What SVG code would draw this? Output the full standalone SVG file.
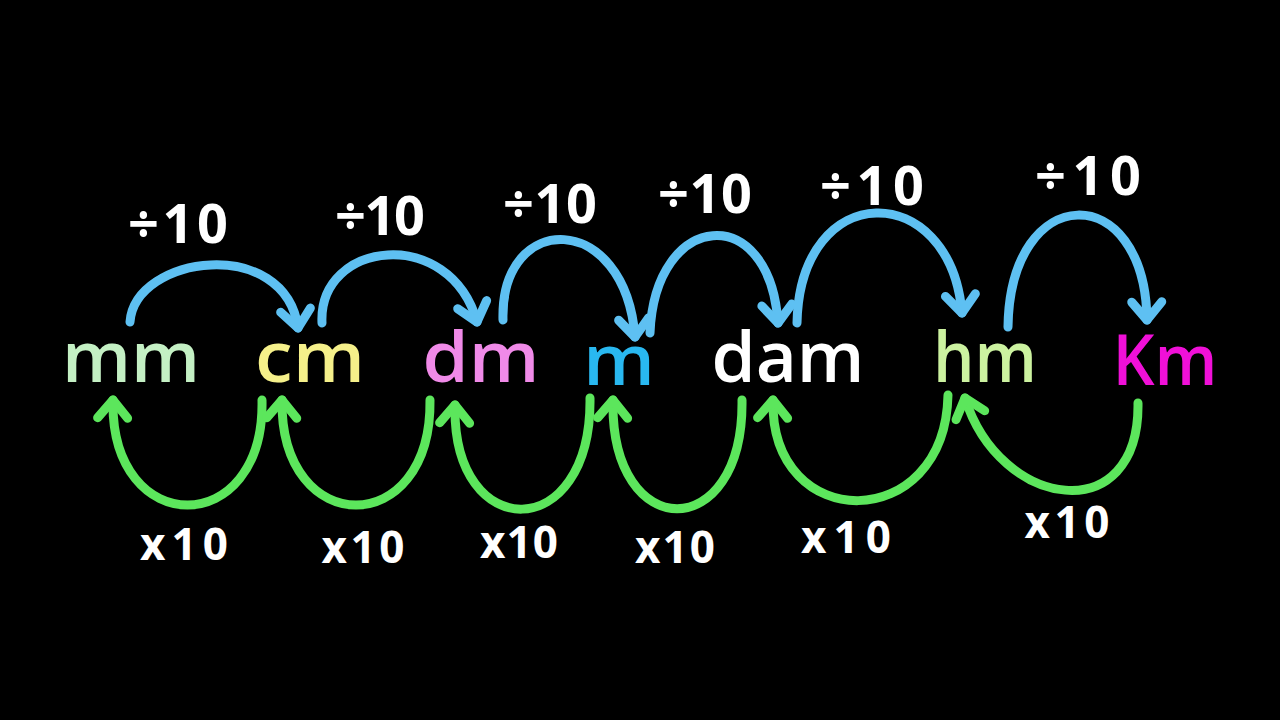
<svg xmlns="http://www.w3.org/2000/svg" width="1280" height="720" viewBox="0 0 1280 720">
<defs>
<style>
.unit{font-family:"Open Sans","Liberation Sans",sans-serif;font-weight:600;font-size:70px;text-anchor:middle}
.lbl{font-family:"Open Sans","Liberation Sans",sans-serif;font-weight:700;fill:#fff;text-anchor:middle}
.div{font-size:54px}
.mul{font-size:44px}
.blue{fill:none;stroke:#5ec0f2;stroke-width:9;stroke-linecap:round;marker-end:url(#ab)}
.green{fill:none;stroke:#5ce65c;stroke-width:9;stroke-linecap:round;marker-end:url(#ag)}
</style>
<marker id="ab" markerUnits="userSpaceOnUse" orient="auto" refX="0" refY="0" markerWidth="60" markerHeight="60" viewBox="-30 -30 60 60" overflow="visible">
<path d="M-18,-15 L0,0 L-18,15" fill="none" stroke="#5ec0f2" stroke-width="9" stroke-linecap="round" stroke-linejoin="round"/>
</marker>
<marker id="ag" markerUnits="userSpaceOnUse" orient="auto" refX="0" refY="0" markerWidth="60" markerHeight="60" viewBox="-30 -30 60 60" overflow="visible">
<path d="M-18,-15 L0,0 L-18,15" fill="none" stroke="#5ce65c" stroke-width="9" stroke-linecap="round" stroke-linejoin="round"/>
</marker>
</defs>
<rect width="1280" height="720" fill="#000"/>
<g id="connectors">
<path class="blue" d="M130,322 C135,255 285,235 298,328"/>
<path class="blue" d="M322,323 C318,240 450,225 477,322"/>
<path class="blue" d="M503,320 C500,210 625,210 635,337"/>
<path class="blue" d="M650,333 C655,210 770,200 778,323"/>
<path class="blue" d="M797,323 C800,178 950,178 962,313"/>
<path class="blue" d="M1008,327 C1010,180 1145,178 1147,320"/>
<path class="green" d="M262,400 C265,540 110,540 113,400"/>
<path class="green" d="M430,400 C432,540 280,540 282,400"/>
<path class="green" d="M590,398 C592,545 452,545 455,405"/>
<path class="green" d="M742,400 C744,545 610,545 613,400"/>
<path class="green" d="M948,395 C945,535 770,535 773,400"/>
<path class="green" d="M1138,403 C1140,530 1000,510 965,398"/>
</g>
<g id="labels">
<text class="lbl div" x="178" y="243" textLength="100">÷10</text>
<text class="lbl div" x="380" y="235" textLength="90">÷10</text>
<text class="lbl div" x="550" y="223" textLength="94">÷10</text>
<text class="lbl div" x="705" y="213" textLength="94">÷10</text>
<text class="lbl div" x="872" y="205" textLength="104">÷10</text>
<text class="lbl div" x="1088" y="195" textLength="106">÷10</text>
<text class="lbl mul" x="184" y="560" textLength="88">x10</text>
<text class="lbl mul" x="363" y="563" textLength="83">x10</text>
<text class="lbl mul" x="519" y="558" textLength="78">x10</text>
<text class="lbl mul" x="675" y="563" textLength="80">x10</text>
<text class="lbl mul" x="846" y="553" textLength="90">x10</text>
<text class="lbl mul" x="1067" y="538" textLength="85">x10</text>
</g>
<g id="mm"><text class="unit" x="131" y="382" fill="#c4f0c4" textLength="138" lengthAdjust="spacingAndGlyphs">mm</text></g>
<g id="cm"><text class="unit" x="310" y="382" fill="#f5f08a" textLength="110" lengthAdjust="spacingAndGlyphs">cm</text></g>
<g id="dm"><text class="unit" x="481" y="382" fill="#f08ae8" textLength="117" lengthAdjust="spacingAndGlyphs">dm</text></g>
<g id="m"><text class="unit" x="619" y="385" fill="#29b8f0" textLength="72" lengthAdjust="spacingAndGlyphs">m</text></g>
<g id="dam"><text class="unit" x="788" y="382" fill="#ffffff" textLength="153" lengthAdjust="spacingAndGlyphs">dam</text></g>
<g id="hm"><text class="unit" x="985" y="382" fill="#ccf2a0" textLength="104" lengthAdjust="spacingAndGlyphs">hm</text></g>
<g id="Km"><text class="unit" x="1165" y="385" fill="#f010d8" textLength="105" lengthAdjust="spacingAndGlyphs">Km</text></g>
</svg>
